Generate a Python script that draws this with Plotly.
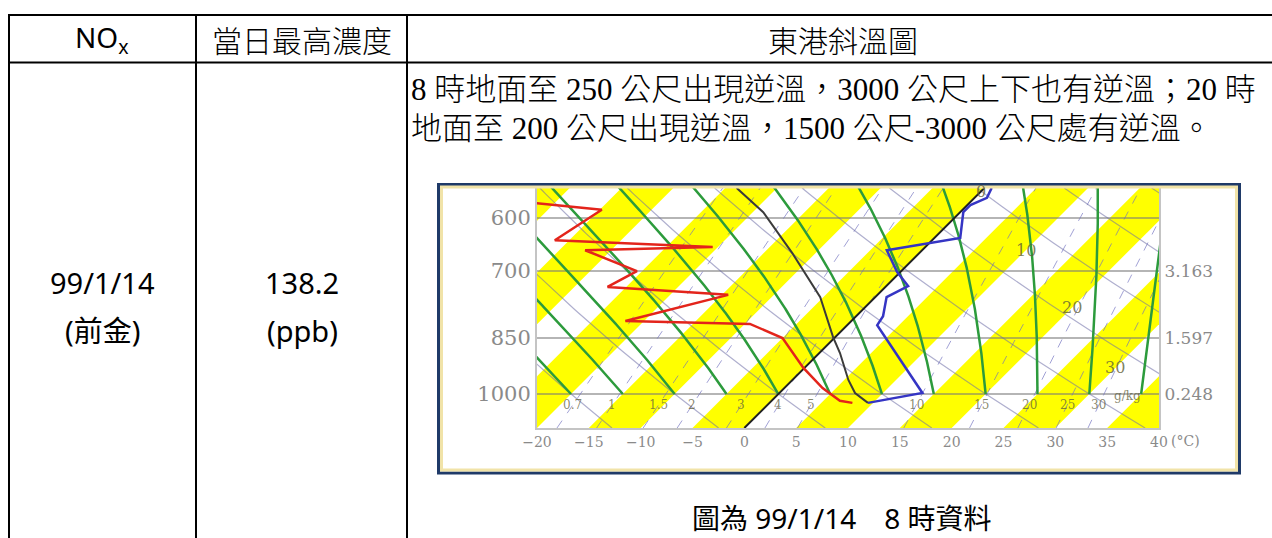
import numpy as np
import plotly.graph_objects as go

W, H = 1272, 538


def px(x):
    return x / W


def py(y):
    return 1 - y / H


# ---- sounding (東港, 99/1/14 08時) ----
P_TEMP = [1026, 997, 819, 798, 755, 731, 702, 659, 636, 590, 578, 566, 550]
T_TEMP = [9.5, 13.8, 2.9, 2.6, 1.1, 2.1, -0.3, -3.4, 2.5, 0.3, 0.3, 1.2, 0.7]

P_DEW = [1026, 1020, 983, 927, 850, 816, 809, 750, 733, 700, 659, 653, 640, 586, 575]
T_DEW = [8.0, 6.6, 3.7, -0.1, -5.0, -9.5, -21.8, -14.4, -26.8, -25.5, -32.5, -20.5,
         -36.4, -34.8, -41.7]

P_PARCEL = [1026, 997, 960, 888, 848, 755, 665, 590, 550]
T_PARCEL = [9.5, 7.3, 5.4, 2.0, -0.2, -5.3, -12.2, -19.0, -23.9]

# ---- diagram furniture ----
PRESSURE_LEVELS = [600, 700, 850, 1000]
PRESSURE_LABELS = ["600", "700", "850", "1000"]
HEIGHT_LEVELS = [700, 850, 1000]
HEIGHT_LABELS = ["3.163", "1.597", "0.248"]
TEMP_TICKS = [-20, -15, -10, -5, 0, 5, 10, 15, 20, 25, 30, 35, 40]
MOIST_T0 = [-20, -15, -10, -5, 0, 5, 10, 15, 20, 25, 30, 35, 40]
DRY_T0 = [-60, -50, -40, -30, -20, -10, 0, 10, 20, 30, 40, 50, 60, 70, 80]
MIXING_RATIOS = [0.7, 1, 1.5, 2, 3, 4, 5, 10, 15, 20, 25, 30]
ISOTHERM_LABELS = [0, 10, 20, 30]
YELLOW_BANDS = [(-45, -40), (-35, -30), (-25, -20), (-15, -10), (-5, 0),
                (5, 10), (15, 20), (25, 30), (35, 40)]

# plot box in pixels
PL, PR, PT, PB = 537, 1159, 188, 428
T_MIN, T_MAX = -20, 40
P_BOT, P_TOP = 1103.6, 550.1
LOG_SPAN = np.log10(P_BOT / P_TOP)
# skew so that isotherms run at 45 degrees on screen
SKEW = ((PB - PT) / LOG_SPAN) / ((PR - PL) / (T_MAX - T_MIN))


def skew_x(t, p):
    return np.asarray(t, float) + SKEW * np.log10(P_BOT / np.asarray(p, float))


def dewpoint_from_w(w, p):
    e = w * p / (622.0 + w)
    lg = np.log(e / 6.112)
    td = 243.5 * lg / (17.67 - lg)
    td_ice = 272.62 * lg / (22.46 - lg)
    return np.where(td < 0, td_ice, td)


def moist_adiabat(t0c, p_end, dp=-2.0):
    rd, cp, lv, eps = 287.04, 1005.7, 2.501e6, 0.622

    def f(t, p):
        es = 6.112 * np.exp(17.67 * (t - 273.15) / (t - 29.65))
        rs = eps * es / (p - es)
        return (rd * t + lv * rs) / (p * (cp + lv * lv * rs * eps / (rd * t * t)))

    ps, ts = [1000.0], [t0c + 273.15]
    p, t = 1000.0, t0c + 273.15
    while p > p_end:
        k1 = f(t, p)
        k2 = f(t + 0.5 * dp * k1, p + 0.5 * dp)
        k3 = f(t + 0.5 * dp * k2, p + 0.5 * dp)
        k4 = f(t + dp * k3, p + dp)
        t += dp * (k1 + 2 * k2 + 2 * k3 + k4) / 6
        p += dp
        ps.append(p)
        ts.append(t)
    return np.array(ps), np.array(ts) - 273.15


fig = go.Figure()
no_hover = dict(hoverinfo="skip", showlegend=False)

# yellow isotherm bands
for a, b in YELLOW_BANDS:
    fig.add_trace(go.Scatter(
        x=[skew_x(a, P_BOT), skew_x(b, P_BOT), skew_x(b, P_TOP), skew_x(a, P_TOP), skew_x(a, P_BOT)],
        y=[P_BOT, P_BOT, P_TOP, P_TOP, P_BOT],
        mode="lines", fill="toself", fillcolor="#FFFF00", line=dict(width=0), **no_hover))

# pressure grid lines
for p in PRESSURE_LEVELS:
    fig.add_trace(go.Scatter(x=[T_MIN, T_MAX], y=[p, p], mode="lines",
                             line=dict(color="rgba(120,120,120,0.55)", width=2), **no_hover))

p_full = np.geomspace(P_BOT, P_TOP, 80)

# mixing ratio lines
for w in MIXING_RATIOS:
    fig.add_trace(go.Scatter(x=skew_x(dewpoint_from_w(w, p_full), p_full), y=p_full, mode="lines",
                             line=dict(color="rgba(110,110,190,0.65)", width=1, dash="dash"), **no_hover))

# dry adiabats
for t0 in DRY_T0:
    t = (t0 + 273.15) * (p_full / 1000.0) ** 0.2857 - 273.15
    fig.add_trace(go.Scatter(x=skew_x(t, p_full), y=p_full, mode="lines",
                             line=dict(color="rgba(110,110,165,0.55)", width=1.2), **no_hover))

# saturated adiabats
for t0 in MOIST_T0:
    pm, tm = moist_adiabat(t0, P_TOP - 4)
    fig.add_trace(go.Scatter(x=skew_x(tm, pm), y=pm, mode="lines",
                             line=dict(color="#2c9b3c", width=2.5), **no_hover))

# 0 degC isotherm
fig.add_trace(go.Scatter(x=skew_x([0, 0], [P_BOT, P_TOP]), y=[P_BOT, P_TOP], mode="lines",
                         line=dict(color="#202020", width=2), **no_hover))

# parcel path, dew point, temperature
fig.add_trace(go.Scatter(x=skew_x(T_PARCEL, P_PARCEL), y=P_PARCEL, mode="lines",
                         line=dict(color="#3b3b3b", width=2), **no_hover))
fig.add_trace(go.Scatter(x=skew_x(T_DEW, P_DEW), y=P_DEW, mode="lines",
                         line=dict(color="#e3241b", width=2.5), **no_hover))
fig.add_trace(go.Scatter(x=skew_x(T_TEMP, P_TEMP), y=P_TEMP, mode="lines",
                         line=dict(color="#3535c4", width=2.5), **no_hover))

# carrier for the right-hand height axis
fig.add_trace(go.Scatter(x=[T_MIN] * len(HEIGHT_LEVELS), y=HEIGHT_LEVELS, yaxis="y2",
                         mode="markers", marker=dict(opacity=0), **no_hover))

serif_small = dict(family="DejaVu Serif", color="#8a8a8a")
label_font = dict(family="DejaVu Serif", size=12, color="rgba(95,95,60,0.75)")
annotations = []

# mixing ratio labels in the strip under 1000 hPa
p_lab = 1032
for w in MIXING_RATIOS:
    annotations.append(dict(
        x=float(skew_x(dewpoint_from_w(w, p_lab), p_lab)), y=float(np.log10(p_lab)), xref="x", yref="y",
        text=f"{w:g}", showarrow=False, font=label_font))
annotations.append(dict(x=px(1143), y=py(405), xref="paper", yref="paper", text="g/kg", showarrow=False,
                        font=label_font))

# isotherm labels
iso_label_p = [556, 659, 779, 927]
for t, p in zip(ISOTHERM_LABELS, iso_label_p):
    annotations.append(dict(
        x=float(skew_x(t, p)), y=float(np.log10(p)), xref="x", yref="y", text=str(t), showarrow=False,
        font=dict(family="DejaVu Serif", size=16, color="rgba(95,95,55,0.8)")))

annotations.append(dict(x=px(1169), y=py(441), xref="paper", yref="paper", xanchor="left", yanchor="middle",
                        text="(°C)", showarrow=False, font=dict(size=14, **serif_small)))

# table text
cjk = "Noto Sans CJK TC"
sans = f"Noto Sans, {cjk}"
para = f"Liberation Serif, {cjk}"
black = "#000000"


def cell_text(x, y, text, family, size, anchor="center", weight=400):
    annotations.append(dict(x=px(x), y=py(y), xref="paper", yref="paper", text=text, showarrow=False,
                            xanchor=anchor, yanchor="middle",
                            font=dict(family=family, size=size, color=black, weight=weight)))


cell_text(102, 39, "NO<sub>x</sub>", sans, 28)
cell_text(302, 39, "當日最高濃度", cjk, 30, weight=300)
cell_text(843, 39, "東港斜溫圖", cjk, 30, weight=300)
cell_text(409, 89, "8 時地面至 250 公尺出現逆溫，3000 公尺上下也有逆溫；20 時", para, 31, "left", 300)
cell_text(409, 128, "地面至 200 公尺出現逆溫，1500 公尺-3000 公尺處有逆溫。", para, 31, "left", 300)
cell_text(102, 282, "99/1/14", sans, 29)
cell_text(102, 330, "(前金)", sans, 29)
cell_text(302, 282, "138.2", sans, 29)
cell_text(302, 330, "(ppb)", sans, 29)
cell_text(842, 518, "圖為 99/1/14　8 時資料", sans, 28)

shapes = []
# table rules
for x in (9, 196, 407):
    shapes.append(dict(type="line", xref="paper", yref="paper", x0=px(x), x1=px(x), y0=py(15), y1=py(540),
                       line=dict(color=black, width=2)))
for y in (15, 62.5):
    shapes.append(dict(type="line", xref="paper", yref="paper", x0=px(8), x1=px(1274), y0=py(y), y1=py(y),
                       line=dict(color=black, width=2)))
# picture frame
shapes.append(dict(type="rect", xref="paper", yref="paper", x0=px(438.5), x1=px(1239.5), y0=py(184.5),
                   y1=py(473), line=dict(color="#1f3a68", width=3), layer="above"))
shapes.append(dict(type="rect", xref="paper", yref="paper", x0=px(441.5), x1=px(1236.5), y0=py(187),
                   y1=py(470), line=dict(color="#f1e3a8", width=3), layer="above"))

fig.update_layout(
    template="none",
    width=W, height=H, autosize=False,
    margin=dict(l=0, r=0, t=0, b=0, pad=0),
    paper_bgcolor="white", plot_bgcolor="white",
    showlegend=False,
    xaxis=dict(domain=[px(PL), px(PR)], range=[T_MIN, T_MAX], tickvals=TEMP_TICKS,
               ticktext=[str(t).replace("-", "−") for t in TEMP_TICKS], automargin=False,
               showgrid=False, zeroline=False, showline=True, linecolor="#c4c4c4", linewidth=2,
               ticks="", tickfont=dict(size=14, **serif_small), fixedrange=True),
    yaxis=dict(domain=[py(PB), py(PT)], type="log", range=[np.log10(P_BOT), np.log10(P_TOP)],
               tickvals=PRESSURE_LEVELS, ticktext=PRESSURE_LABELS, showgrid=False, zeroline=False,
               showline=True, linecolor="#c4c4c4", linewidth=2, ticks="", automargin=False,
               tickfont=dict(size=21, **serif_small), fixedrange=True),
    yaxis2=dict(domain=[py(PB), py(PT)], type="log", range=[np.log10(P_BOT), np.log10(P_TOP)],
                overlaying="y", side="right", anchor="x", tickvals=HEIGHT_LEVELS, ticktext=HEIGHT_LABELS,
                showgrid=False, zeroline=False, showline=True, linecolor="#c4c4c4", linewidth=2,
                ticks="", automargin=False, tickfont=dict(size=17, **serif_small), fixedrange=True),
    annotations=annotations,
    shapes=shapes,
)

fig.write_html("out.html", config={"displayModeBar": False})
